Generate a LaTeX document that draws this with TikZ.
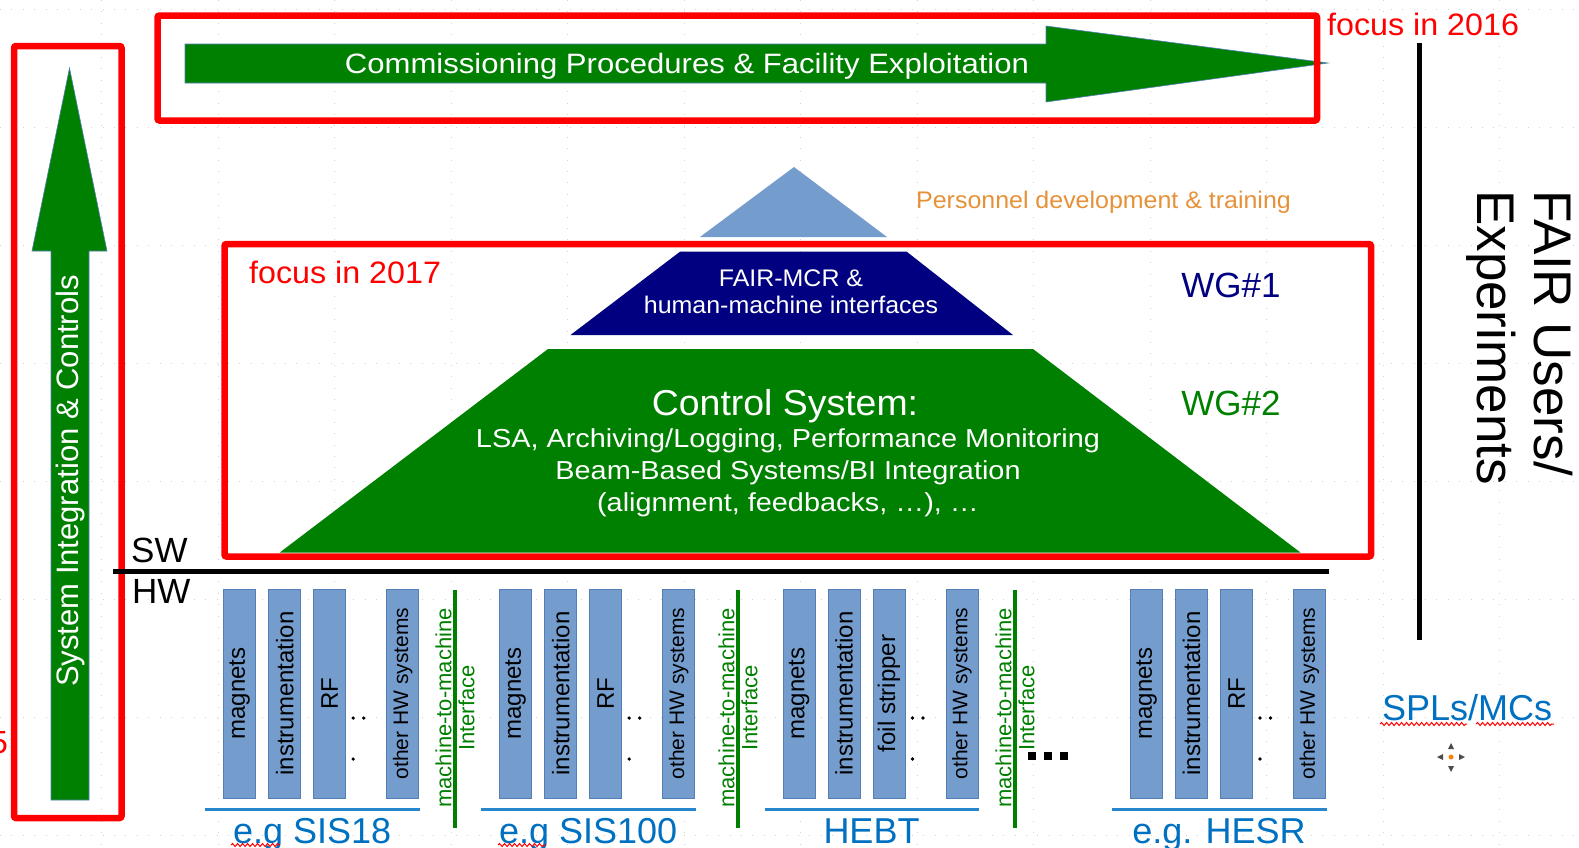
\documentclass[tikz,border=0pt]{standalone}
\usepackage{fontspec}
\setmainfont{Liberation Sans}
\newfontfamily\widefont[FakeStretch=1.11]{Liberation Sans}
\newfontfamily\midfont[FakeStretch=1.04]{Liberation Sans}
\usetikzlibrary{decorations.pathmorphing}

\definecolor{fairgreen}{RGB}{0,128,0}
\definecolor{fairnavy}{RGB}{0,0,128}
\definecolor{hwblue}{RGB}{116,157,206}
\definecolor{hwedge}{RGB}{84,126,182}
\definecolor{labelblue}{RGB}{0,112,192}
\definecolor{lineblue}{RGB}{40,134,206}
\definecolor{trainorange}{RGB}{230,145,56}

\tikzset{
  griddot/.style={draw=gray!35, line width=0.9pt, dash pattern=on 0.9pt off 10.5pt},
  focusbox/.style={draw=red, line width=6.5pt, rounded corners=2pt},
  bigarrow/.style={fill=fairgreen, draw=hwedge, line width=0.6pt},
  txt/.style={inner sep=0pt},
  hwbox/.style={fill=hwblue, draw=hwedge, line width=0.8pt, rotate=90, inner sep=0pt,
    minimum width=209pt, minimum height=32pt, font=\fontsize{24}{28}\selectfont},
  m2mline/.style={draw=fairgreen, line width=4.5pt},
  labelline/.style={draw=lineblue, line width=3pt},
  spellmark/.style={draw=red, line width=1pt, decorate,
    decoration={snake, amplitude=1.5pt, segment length=5pt}},
}

\begin{document}
\begin{tikzpicture}[x=1pt, y=-1pt]
  \useasboundingbox (0,0) rectangle (1579,847);
  % grid of the slide editor
  \foreach \gy in {9,127,...,835} \draw[griddot] (0,\gy) -- (1579,\gy);
  \foreach \gx in {101.7,218.2,...,1500} \draw[griddot] (\gx,0) -- (\gx,847);

  % big arrows
  \draw[bigarrow] (185,44) -- (1046,44) -- (1046,26) -- (1328,63) -- (1046,102) -- (1046,83) -- (185,83) -- cycle; % commissioning
  \node[txt, anchor=base, text=white, font=\widefont\fontsize{28}{32}\selectfont] (comm) at (687,73) {Commissioning Procedures \& Facility Exploitation};
  \draw[bigarrow] (51,800) -- (51,251) -- (32,251) -- (69.5,68) -- (107,251) -- (89,251) -- (89,800) -- cycle; % integration
  \node[txt, rotate=90, text=white, font=\fontsize{31}{35}\selectfont] (sysint) at (70,481) {System Integration \& Controls};

  % pyramid
  \fill[hwblue] (700,237) -- (794,167) -- (887,237) -- cycle; % personnel
  \node[txt, anchor=base west, text=trainorange, font=\midfont\fontsize{24}{28}\selectfont] (train) at (916,208) {Personnel development \& training};
  \fill[fairnavy] (570.5,335) -- (680,251.7) -- (906.7,251.7) -- (1013,335) -- cycle; % WG1
  \node[txt, align=center, text=white, font=\midfont\fontsize{24}{27}\selectfont] (mcr) at (791,292) {FAIR-MCR \&\\human-machine interfaces};
  \fill[fairgreen] (279.5,552.7) -- (548,349) -- (1033,349) -- (1300.7,552.7) -- cycle; % WG2
  \node[txt, anchor=base, text=white, font=\midfont\fontsize{36}{40}\selectfont] (cstitle) at (785,415) {Control System:};
  \node[txt, align=center, text=white, font=\widefont\fontsize{26}{32}\selectfont] (cslist) at (788,473) {LSA, Archiving/Logging, Performance Monitoring\\Beam-Based Systems/BI Integration\\(alignment, feedbacks, …), …};
  \node[txt, anchor=base, text=fairnavy, font=\fontsize{35}{40}\selectfont] (wga) at (1231,297) {WG\#1};
  \node[txt, anchor=base, text=fairgreen, font=\fontsize{35}{40}\selectfont] (wgb) at (1231,415) {WG\#2};

  % focus boxes
  \draw[focusbox] (157.5,15.5) rectangle (1317,120.5); % 2016
  \draw[focusbox] (224.5,244) rectangle (1371,556.5); % 2017
  \draw[focusbox] (14,46) rectangle (121.5,818); % left
  \node[txt, anchor=base west, text=red, font=\midfont\fontsize{31}{35}\selectfont] (focusa) at (1327,35) {focus in 2016};
  \node[txt, anchor=base west, text=red, font=\midfont\fontsize{31}{35}\selectfont] (focusb) at (249,283) {focus in 2017};
  \node[txt, anchor=base east, text=red, font=\fontsize{32}{36}\selectfont] (focusc) at (8,753) {5};

  % SW / HW
  \draw[line width=5pt] (113,571) -- (1329,571);
  \node[txt, anchor=base west, font=\fontsize{35}{40}\selectfont] (sw) at (131,562) {SW};
  \node[txt, anchor=base west, font=\fontsize{35}{40}\selectfont] (hw) at (132,603) {HW};
  \draw[line width=5pt] (1419,43) -- (1419,640); % users
  \node[txt, rotate=-90, anchor=west, align=left, font=\fontsize{53}{57}\selectfont] (users) at (1520,190) {FAIR Users/\\Experiments};

  % hardware groups
  \foreach \cx/\third/\gname/\glabel in {239.7/RF/sisa/{e.g SIS18}, 515.7/RF/sisb/{e.g SIS100}, 799/{foil stripper}/hebt/HEBT, 1146.5/RF/hesr/{e.g. HESR}}{
    \node[hwbox] (\gname-mag) at (\cx,693.5) {magnets};
    \node[hwbox] (\gname-ins) at (\cx+45,693.5) {instrumentation};
    \node[hwbox] (\gname-thr) at (\cx+90,693.5) {\third};
    \node[hwbox, font=\fontsize{21}{25}\selectfont] (\gname-oth) at (\cx+163,693.5) {other HW systems};
    \fill (\cx+113.5,718) circle (1.8pt) (\cx+124,718) circle (1.8pt) (\cx+113.5,759) circle (1.8pt); % dots
    \draw[labelline] (\cx-34.5,809.5) -- (\cx+180,809.5);
    \node[txt, anchor=base, text=labelblue, font=\fontsize{36}{40}\selectfont] (\gname-lab) at (\cx+72.5,843) {\glabel};
  }
  \foreach \gx/\gname in {455/ma, 738/mb, 1015/mc}{
    \draw[m2mline] (\gx,590) -- (\gx,828);
    \node[txt, rotate=90, align=center, text=fairgreen, font=\fontsize{22}{23}\selectfont] (\gname) at (\gx,708) {machine-to-machine\\Interface};
  }
  \foreach \sx in {1032,1048,1064} \fill (\sx-4,751.5) rectangle (\sx+4,759.5); % more machines

  \node[txt, anchor=base, text=labelblue, font=\fontsize{36}{40}\selectfont] (spl) at (1467,720) {SPLs/MCs};
  \draw[spellmark] (231,845) -- (280,845);
  \draw[spellmark] (498,845) -- (546,845);
  \draw[spellmark] (1380,724) -- (1467,724);
  \draw[spellmark] (1476,724) -- (1554,724);

  % move cursor
  \fill[gray!60!black] (1451,743) -- (1448,749) -- (1454,749) -- cycle;
  \fill[gray!60!black] (1451,772) -- (1448,766) -- (1454,766) -- cycle;
  \fill[gray!60!black] (1437,757) -- (1443,754) -- (1443,760) -- cycle;
  \fill[gray!60!black] (1465,757) -- (1459,754) -- (1459,760) -- cycle;
  \fill[orange] (1451,757) circle (2.5pt);
\end{tikzpicture}
\end{document}
